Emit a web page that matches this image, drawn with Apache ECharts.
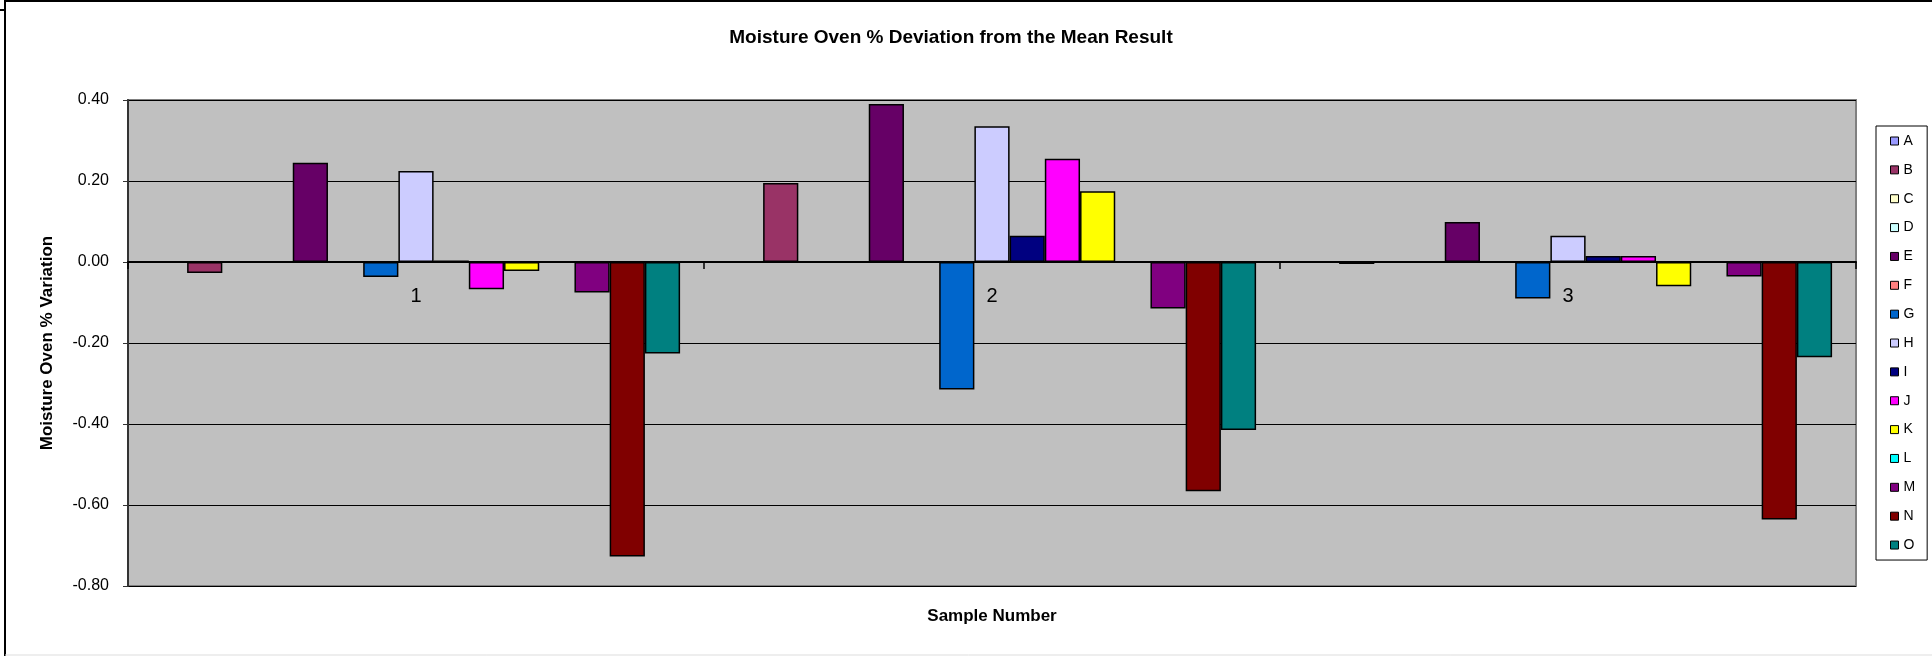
<!DOCTYPE html>
<html>
<head>
<meta charset="utf-8">
<script src="https://cdn.jsdelivr.net/npm/echarts@6/dist/echarts.min.js"></script>
<style>
html,body{margin:0;padding:0;background:#fff;}
#chart{width:1932px;height:656px;}
</style>
</head>
<body>
<div id="chart"></div>
<script>
// ---- data ----
const categories = ['1', '2', '3'];
const seriesNames = ['A','B','C','D','E','F','G','H','I','J','K','L','M','N','O'];
const A = [null, null, null];
const B = [-0.027, 0.195, -0.005];
const C = [null, null, null];
const D = [null, null, null];
const E = [0.245, 0.390, 0.099];
const F = [null, null, null];
const G = [-0.037, -0.315, -0.090];
const H = [0.225, 0.335, 0.065];
const I = [0.004, 0.065, 0.015];
const J = [-0.067, 0.255, 0.015];
const K = [-0.022, 0.175, -0.060];
const L = [null, null, null];
const M = [-0.075, -0.115, -0.036];
const N = [-0.727, -0.566, -0.636];
const O = [-0.226, -0.415, -0.235];
const seriesValues = [A,B,C,D,E,F,G,H,I,J,K,L,M,N,O];
const seriesColors = ['#9999FF','#993366','#FFFFCC','#CCFFFF','#660066','#FF8080','#0066CC','#CCCCFF','#000080','#FF00FF','#FFFF00','#00FFFF','#800080','#800000','#008080'];
const yMin = -0.8, yMax = 0.4, yStep = 0.2;

const FONT = '"Liberation Sans", Arial, sans-serif';
const chart = echarts.init(document.getElementById('chart'), null, {renderer: 'canvas'});

const series = seriesNames.map((name, i) => ({
  name: name,
  type: 'bar',
  data: seriesValues[i],
  barGap: '0%',
  barCategoryGap: '8.3%',
  itemStyle: {color: seriesColors[i], borderColor: '#000', borderWidth: 1.5},
  emphasis: {disabled: true},
  animation: false
}));

chart.setOption({
  animation: false,
  backgroundColor: '#fff',
  title: {
    text: 'Moisture Oven % Deviation from the Mean Result',
    left: 946,
    textAlign: 'center',
    top: 23,
    textStyle: {fontFamily: FONT, fontSize: 19, fontWeight: 'bold', color: '#000'}
  },
  grid: {
    left: 128, right: 76, top: 100, bottom: 70,
    show: true, backgroundColor: '#C0C0C0', borderColor: '#808080', borderWidth: 2,
    containLabel: false,
    outerBoundsMode: 'none'
  },
  legend: {
    orient: 'vertical',
    left: 1876, top: 126,
    data: seriesNames,
    itemWidth: 8, itemHeight: 8, itemGap: 14.86, itemTextGap: 3,
    icon: 'rect',
    padding: [8, 12, 8, 14],
    borderColor: '#000', borderWidth: 1,
    backgroundColor: '#fff',
    itemStyle: {borderColor: '#000', borderWidth: 1},
    textStyle: {fontFamily: FONT, fontSize: 14, color: '#000', lineHeight: 14},
    selectedMode: false
  },
  xAxis: {
    type: 'category',
    data: categories,
    name: 'Sample Number',
    nameLocation: 'middle',
    nameGap: 22,
    nameTextStyle: {fontFamily: FONT, fontSize: 17, fontWeight: 'bold', color: '#000'},
    axisLine: {onZero: true, lineStyle: {color: '#000', width: 2}},
    axisTick: {show: true, length: 7, lineStyle: {color: '#000', width: 1.5}},
    axisLabel: {fontFamily: FONT, fontSize: 20, color: '#000', margin: -300},
    splitLine: {show: false}
  },
  yAxis: {
    type: 'value',
    min: yMin, max: yMax, interval: yStep,
    name: 'Moisture Oven % Variation',
    nameLocation: 'middle',
    nameRotate: 90,
    nameGap: 72,
    nameTextStyle: {fontFamily: FONT, fontSize: 17, fontWeight: 'bold', color: '#000'},
    axisLine: {show: true, lineStyle: {color: '#333', width: 2}},
    axisTick: {show: true, length: 5, lineStyle: {color: '#333', width: 1}},
    axisLabel: {fontFamily: FONT, fontSize: 16, color: '#000', margin: 19,
      formatter: v => v.toFixed(2)},
    splitLine: {show: true, lineStyle: {color: '#000', width: 1}}
  },
  graphic: [
    {type: 'line', shape: {x1: 5, y1: 1, x2: 1932, y2: 1}, style: {stroke: '#000', lineWidth: 2}, silent: true},
    {type: 'line', shape: {x1: 5, y1: 0, x2: 5, y2: 656}, style: {stroke: '#000', lineWidth: 2}, silent: true},
    {type: 'line', shape: {x1: 0, y1: 10, x2: 5, y2: 10}, style: {stroke: '#000', lineWidth: 2}, silent: true},
    {type: 'line', shape: {x1: 5, y1: 655, x2: 1932, y2: 655}, style: {stroke: '#ddd', lineWidth: 1}, silent: true}
  ],
  series: series
});
</script>
</body>
</html>
